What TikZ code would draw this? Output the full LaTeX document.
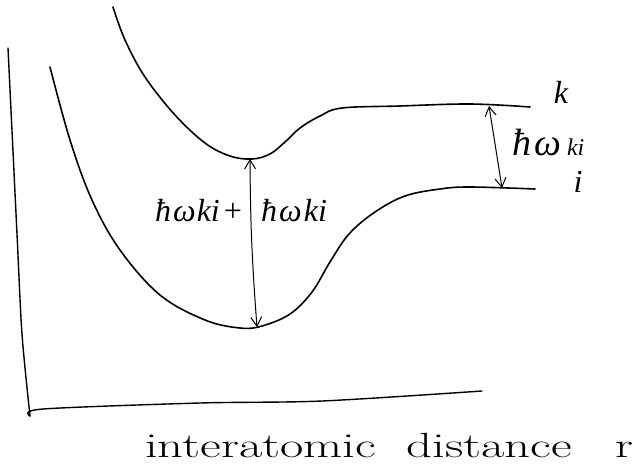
\documentclass[tikz,border=0pt]{standalone}
\usepackage{fontspec}
\newfontfamily\lblfont{Liberation Serif}
\usetikzlibrary{arrows.meta}
\begin{document}
\begin{tikzpicture}[x=1pt,y=-1pt,
  curve/.style={line width=1.6pt,line cap=round,line join=round},
  axisline/.style={line width=1.4pt,line cap=round,line join=round},
  gaparrow/.style={line width=1pt,{Straight Barb[length=9pt,width=11pt]}-{Straight Barb[length=9pt,width=11pt]}},
  lbl/.style={inner sep=0pt,font=\lblfont\itshape\fontsize{32}{36}\selectfont}]
\useasboundingbox (0,0) rectangle (644,468);
% axes
\draw[axisline] plot[smooth,tension=0.5] coordinates {(8,48) (17,234) (22,334) (30,416)};
\draw[axisline] plot[smooth,tension=0.5] coordinates {(30,416) (43,409) (200,403) (322,401) (482,391)};
% lower potential curve (state i)
\draw[curve] plot[smooth,tension=0.6] coordinates {(50,67) (70,140) (92,200) (120,250) (160,295) (205,320) (240,328) (262,326) (290,314) (312,292) (330,262) (349,234) (375,212) (405,196) (440,189) (470,187) (535,189)};
% upper potential curve (state k)
\draw[curve] plot[smooth,tension=0.6] coordinates {(113,7) (125,40) (145,77) (175,115) (205,143) (230,156) (252,159) (270,154) (285,142) (300,128) (320,116) (342,108) (400,106) (470,104) (530,107)};
% arrow endpoints
\coordinate (kmin) at (250,159);
\coordinate (imin) at (257,327);
\coordinate (kinf) at (489,106);
\coordinate (iinf) at (502,188);
\draw[gaparrow] (kmin) to[bend right=2] (imin);
\draw[gaparrow] (kinf) -- (iinf);
% labels
\node[lbl,anchor=base west] (sumA) at (155,221) {ħ\kern2ptω\kern1ptki\kern2pt+};
\node[lbl,anchor=base west] (sumB) at (261,221) {ħ\kern2ptω\kern2ptki};
\node[lbl,anchor=base west] (gap) at (512,155) {{\fontsize{38}{42}\selectfont ħ\kern3ptω}\kern6pt{\fontsize{24}{28}\selectfont ki}};
\node[lbl] (klab) at (561,92) {k};
\node[lbl] (ilab) at (578,182) {i};
\node[inner sep=0pt,anchor=base west,font=\fontsize{35}{40}\selectfont] (xlab) at (145,457)
  {\scalebox{1.45}[1]{interatomic\hspace{21pt}distance\hspace{30pt}r}};
\end{tikzpicture}
\end{document}
